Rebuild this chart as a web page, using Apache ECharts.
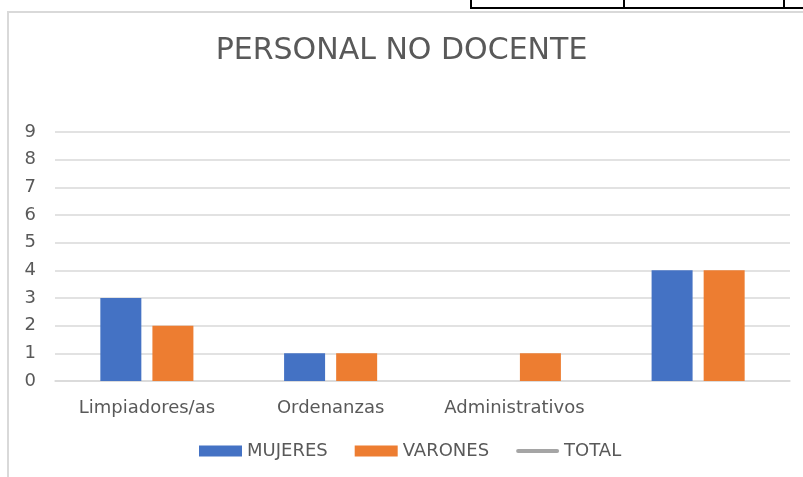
<!DOCTYPE html>
<html>
<head>
<meta charset="utf-8">
<title>PERSONAL NO DOCENTE</title>
<script src="https://cdn.jsdelivr.net/npm/echarts@6/dist/echarts.min.js"></script>
<style>
  html, body { margin: 0; padding: 0; background: #fff; }
  #chart { width: 803px; height: 477px; }
</style>
</head>
<body>
<div id="chart"></div>
<script>
// data
const categories = ['Limpiadores/as', 'Ordenanzas', 'Administrativos', '']
const mujeres = [3, 1, 0, 4]
const varones = [2, 1, 1, 4]
const total = [] // line is in the legend but draws nothing

const textColor = '#595959'
const font = 'DejaVu Sans'

const chart = echarts.init(document.getElementById('chart'))

chart.setOption({
  backgroundColor: '#fff',
  animation: false,
  title: {
    text: 'PERSONAL NO DOCENTE',
    left: 'center',
    top: 31,
    textStyle: {
      fontFamily: font,
      fontSize: 30,
      fontWeight: 'normal',
      color: textColor
    }
  },
  legend: {
    left: 194,
    top: 437,
    itemWidth: 43,
    itemHeight: 11,
    itemGap: 27,
    symbolKeepAspect: true,
    textStyle: {
      fontFamily: font,
      fontSize: 18,
      color: textColor
    },
    data: [
      { name: 'MUJERES', icon: 'rect' },
      { name: 'VARONES', icon: 'rect' },
      // thick grey stroke, like the source legend
      { name: 'TOTAL', icon: 'path://M2,0 L42,0 A2,2 0 0 1 42,4 L2,4 A2,2 0 0 1 2,0 Z' }
    ]
  },
  grid: {
    left: 55,
    right: 13,
    top: 132,
    bottom: 96
  },
  xAxis: {
    type: 'category',
    data: categories,
    axisLine: { show: true, lineStyle: { color: '#d9d9d9', width: 1.5 } },
    axisTick: { show: false },
    axisLabel: {
      margin: 18,
      fontFamily: font,
      fontSize: 18,
      color: textColor
    }
  },
  yAxis: {
    type: 'value',
    min: 0,
    max: 9,
    interval: 1,
    axisLine: { show: false },
    axisTick: { show: false },
    axisLabel: {
      margin: 19,
      fontFamily: font,
      fontSize: 18,
      color: textColor
    },
    splitLine: { lineStyle: { color: '#d9d9d9', width: 1.5 } }
  },
  series: [
    {
      name: 'MUJERES',
      type: 'bar',
      data: mujeres,
      barWidth: 41,
      barGap: '27%',
      itemStyle: { color: '#4472C4' }
    },
    {
      name: 'VARONES',
      type: 'bar',
      data: varones,
      barWidth: 41,
      itemStyle: { color: '#ED7D31' }
    },
    {
      name: 'TOTAL',
      type: 'line',
      data: total,
      symbol: 'none',
      itemStyle: { color: '#A5A5A5' },
      lineStyle: { color: '#A5A5A5', width: 4, cap: 'round' }
    }
  ],
  graphic: [
    // chart frame
    {
      type: 'rect',
      shape: { x: 8, y: 12, width: 820, height: 500 },
      style: { fill: null, stroke: '#d9d9d9', lineWidth: 2 },
      silent: true
    },
    // bit of the table above the chart
    {
      type: 'polyline',
      shape: { points: [[471, 0], [471, 8], [803, 8]] },
      style: { fill: null, stroke: '#000', lineWidth: 2 },
      silent: true
    },
    {
      type: 'line',
      shape: { x1: 624, y1: 0, x2: 624, y2: 8 },
      style: { stroke: '#000', lineWidth: 2 },
      silent: true
    },
    {
      type: 'line',
      shape: { x1: 784, y1: 0, x2: 784, y2: 8 },
      style: { stroke: '#000', lineWidth: 2 },
      silent: true
    }
  ]
})
</script>
</body>
</html>
